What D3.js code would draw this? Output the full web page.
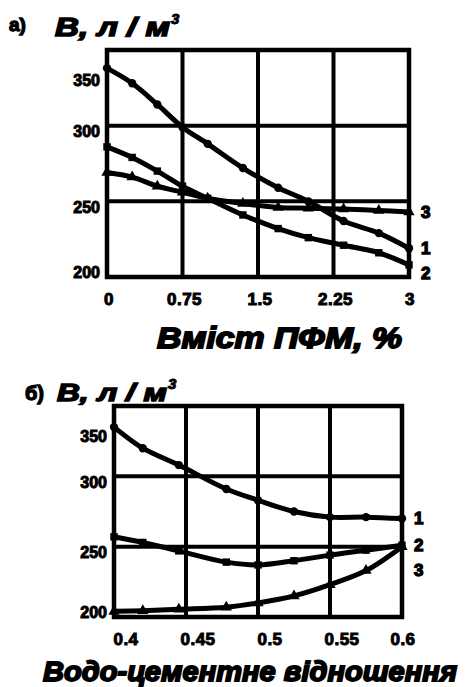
<!DOCTYPE html>
<meta charset="utf-8">
<head>
  <script src="https://d3js.org/d3.v7.min.js"></script>
  <style>
    html, body { margin: 0; padding: 0; background: #fff; }
    text {
      font-family: "Liberation Sans", Arial, sans-serif;
      font-weight: bold;
      fill: #000;
      stroke: #000;
      stroke-width: 1px;
    }
  </style>
</head>
<body>
<script>
  // panel а) : water demand vs PFM content
  const topX = [0, 0.25, 0.5, 0.75, 1.0, 1.35, 1.7, 2.0, 2.35, 2.7, 3.0]
  const topCurve1 = [338, 328, 314, 299, 288, 272, 259, 250, 237, 229, 219]
  const topCurve2 = [286, 279, 270, 260, 252, 241, 232, 226, 221, 216, 208]
  const topCurve3 = [269, 266, 260, 256, 252, 248.5, 246, 245.5, 245, 244, 243]
  const topXTicks = [0, 0.75, 1.5, 2.25, 3]
  const topXTickLabels = ["0", "0.75", "1.5", "2.25", "3"]

  // panel б) : water demand vs water-cement ratio
  const botX = [0.4, 0.42, 0.445, 0.478, 0.5, 0.525, 0.55, 0.575, 0.6]
  const botCurve1 = [335, 320, 308, 291, 283, 275, 271, 271, 270]
  const botCurve2 = [257, 253, 247, 239, 237, 240, 244, 247.5, 251]
  const botCurve3 = [204, 204.5, 205.5, 207, 210, 215, 223, 233, 250]
  const botXTicks = [0.4, 0.45, 0.5, 0.55, 0.6]
  const botXTickLabels = ["0.4", "0.45", "0.5", "0.55", "0.6"]

  const yTicks = [200, 250, 300, 350]
  const seriesNames = ["1", "2", "3"]
  const symbols = [d3.symbolCircle, d3.symbolSquare, d3.symbolTriangle]

  const svg = d3.select("body").append("svg")
    .attr("width", 467)
    .attr("height", 687)

  function drawPanel(p) {
    let g = svg.append("g")
    let x = d3.scaleLinear().domain(p.xDomain).range(p.xRange)
    let y = d3.scaleLinear().domain([200, 350]).range(p.yRange)

    // inner grid
    g.selectAll(".vgrid")
      .data(p.xTicks.slice(1, -1))
      .enter().append("line")
      .attr("x1", d => x(d)).attr("x2", d => x(d))
      .attr("y1", y(200)).attr("y2", y(350))
      .attr("stroke", "#000").attr("stroke-width", 4)
    g.selectAll(".hgrid")
      .data(yTicks.slice(1, -1))
      .enter().append("line")
      .attr("x1", p.xRange[0]).attr("x2", p.xRange[1])
      .attr("y1", d => y(d)).attr("y2", d => y(d))
      .attr("stroke", "#000").attr("stroke-width", 4)

    // frame
    g.append("rect")
      .attr("x", p.xRange[0]).attr("y", y(350))
      .attr("width", p.xRange[1] - p.xRange[0])
      .attr("height", y(200) - y(350))
      .attr("fill", "none").attr("stroke", "#000").attr("stroke-width", 4.5)

    // y tick labels (top one sits lower, clear of the frame)
    g.selectAll(".ylab")
      .data(yTicks)
      .enter().append("text")
      .attr("x", p.xRange[0] - 7)
      .attr("y", d => Math.min(Math.max(y(d) + 6, y(350) + 30), y(200) - 5))
      .attr("dy", "0.35em")
      .attr("text-anchor", "end")
      .style("font-size", "16px")
      .text(d => d)

    // x tick labels
    g.selectAll(".xlab")
      .data(p.xTicks)
      .enter().append("text")
      .attr("x", d => Math.min(x(d) + p.labelShift, p.xRange[1] + 1))
      .attr("y", y(200) + 28)
      .attr("text-anchor", "middle")
      .style("font-size", "17px")
      .style("letter-spacing", "0.5px")
      .text((d, i) => p.xTickLabels[i])

    // curves with markers
    let line = d3.line()
      .x((d, i) => x(p.xs[i]))
      .y(d => y(d))
      .curve(d3.curveCatmullRom)

    p.series.forEach((s, k) => {
      g.append("path")
        .datum(s)
        .attr("d", line)
        .attr("fill", "none")
        .attr("stroke", "#000")
        .attr("stroke-width", 5)
        .attr("stroke-linejoin", "round")
      g.selectAll(".m" + k)
        .data(s)
        .enter().append("path")
        .attr("d", d3.symbol().type(symbols[k]).size(55))
        .attr("transform", (d, i) => "translate(" + x(p.xs[i]) + "," + y(d) + ")")
        .attr("fill", "#000")
    })

    // series numbers at the right end, pushed apart when they collide
    let ends = p.series.map((s, k) => ({ name: seriesNames[k], py: y(s[s.length - 1]) }))
      .sort((a, b) => a.py - b.py)
    for (let i = 1; i < ends.length; i++) {
      ends[i].py = Math.max(ends[i].py, ends[i - 1].py + 25)
    }
    g.selectAll(".snum")
      .data(ends)
      .enter().append("text")
      .attr("x", p.xRange[1] + 12)
      .attr("y", d => d.py)
      .attr("dy", "0.35em")
      .style("font-size", "17px")
      .style("stroke-width", "1.3px")
      .text(d => d.name)

    // y title
    g.append("text")
      .attr("x", p.title.x).attr("y", p.title.y)
      .style("font-size", p.title.size + "px")
      .style("stroke-width", "1.3px")
      .text(p.title.letter)
    g.append("text")
      .attr("x", p.title.x2).attr("y", p.title.y2)
      .attr("textLength", p.title.len)
      .attr("lengthAdjust", "spacingAndGlyphs")
      .style("font-size", p.title.size2 + "px")
      .style("font-style", "italic")
      .style("stroke-width", "1.5px")
      .text("В, л / м")
    g.append("text")
      .attr("x", p.title.x2 + p.title.len + 1).attr("y", p.title.y2 - 12)
      .style("font-size", "15px")
      .style("font-style", "italic")
      .text("3")

    // x title
    g.append("text")
      .attr("x", p.xTitle.x).attr("y", p.xTitle.y)
      .attr("textLength", p.xTitle.len)
      .attr("lengthAdjust", "spacingAndGlyphs")
      .style("font-size", p.xTitle.size + "px")
      .style("font-style", "italic")
      .style("stroke-width", "1.8px")
      .text(p.xTitle.text)
  }

  drawPanel({
    xDomain: [0, 3], xRange: [107, 409], yRange: [277, 50],
    xTicks: topXTicks, xTickLabels: topXTickLabels, labelShift: 2,
    xs: topX, series: [topCurve1, topCurve2, topCurve3],
    title: { letter: "а)", x: 9, y: 31, size: 19, x2: 55, y2: 36, len: 115, size2: 25 },
    xTitle: { text: "Вміст ПФМ, %", x: 157, y: 348, len: 245, size: 30 }
  })

  drawPanel({
    xDomain: [0.4, 0.6], xRange: [114, 402], yRange: [617, 406],
    xTicks: botXTicks, xTickLabels: botXTickLabels, labelShift: 12,
    xs: botX, series: [botCurve1, botCurve2, botCurve3],
    title: { letter: "б)", x: 25, y: 400, size: 20, x2: 57, y2: 401, len: 110, size2: 24 },
    xTitle: { text: "Водо-цементне відношення", x: 43, y: 681, len: 414, size: 28 }
  })
</script>
</body>
